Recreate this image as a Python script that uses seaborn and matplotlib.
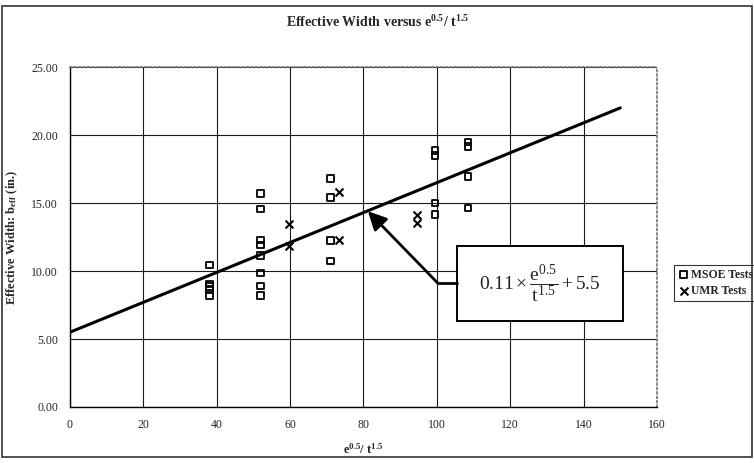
import numpy as np
import pandas as pd
import seaborn as sns
import matplotlib.pyplot as plt
import matplotlib.patches as patches
from matplotlib.ticker import FormatStrFormatter

# MSOE test data: e^0.5 / t^1.5 vs effective width
msoe_x = [38, 38, 38, 38, 38,
          52, 52, 52, 52, 52, 52, 52, 52,
          71, 71, 71, 71,
          99.5, 99.5, 99.5, 99.5,
          108.5, 108.5, 108.5, 108.5]
msoe_y = [10.45, 9.05, 8.85, 8.65, 8.2,
          15.7, 14.55, 12.3, 11.9, 11.15, 9.85, 8.9, 8.2,
          16.8, 15.4, 12.25, 10.75,
          18.85, 18.5, 15.0, 14.15,
          19.5, 19.15, 16.95, 14.65]

# UMR test data
umr_x = [59.8, 59.8, 73.2, 73.2, 94.5, 94.5]
umr_y = [13.45, 11.85, 15.8, 12.25, 14.15, 13.5]

# design line 0.11 * x + 5.5
trend_x = [0, 150]
trend_y = [5.5, 22.0]

x_ticks = [0, 20, 40, 60, 80, 100, 120, 140, 160]
y_ticks = [0, 5, 10, 15, 20, 25]

sns.set_style('white')
plt.rcParams['font.family'] = ['Liberation Serif', 'DejaVu Serif']
plt.rcParams['mathtext.fontset'] = 'custom'
plt.rcParams['mathtext.rm'] = 'Liberation Serif'
plt.rcParams['mathtext.it'] = 'Liberation Serif:italic'
plt.rcParams['mathtext.bf'] = 'Liberation Serif:bold'

fig = plt.figure(figsize=(7.54, 4.63), dpi=100)
ax = fig.add_axes([0.0928, 0.121, 0.7785, 0.734])

msoe = pd.DataFrame({'x': msoe_x, 'y': msoe_y})
umr = pd.DataFrame({'x': umr_x, 'y': umr_y})
trend = pd.DataFrame({'x': trend_x, 'y': trend_y})

sns.lineplot(data=trend, x='x', y='y', ax=ax, color='black', lw=2.2, zorder=3)
sns.scatterplot(data=msoe, x='x', y='y', ax=ax, marker='s', s=22,
                facecolor='none', edgecolor='black', linewidth=1.3,
                label='MSOE Tests', zorder=4)
sns.scatterplot(data=umr, x='x', y='y', ax=ax, marker='x', s=32,
                color='black', linewidth=1.5, label='UMR Tests', zorder=4)

ax.set_xlim(0, 160)
ax.set_ylim(0, 25)
ax.set_xticks(x_ticks)
ax.set_yticks(y_ticks)
ax.yaxis.set_major_formatter(FormatStrFormatter('%.2f'))
ax.tick_params(axis='both', labelsize=8.5, direction='inout', length=5,
               width=0.8, color='black', pad=6)
ax.grid(True, color='#1a1a1a', lw=0.8)
ax.set_axisbelow(True)

for side in ['left', 'bottom']:
    ax.spines[side].set_color('black')
    ax.spines[side].set_linewidth(1.0)
for side in ['top', 'right']:
    ax.spines[side].set_color('#777777')
    ax.spines[side].set_linestyle(':')
    ax.spines[side].set_linewidth(1.2)

ax.set_xlabel(r'e$^\mathbf{0.5}$/ t$^\mathbf{1.5}$', fontsize=9,
              fontweight='bold', labelpad=8)
ax.set_ylabel(r'Effective Width: b$_\mathbf{eff}$ (in.)', fontsize=9,
              fontweight='bold', labelpad=8)
fig.text(0.5, 0.952, r'Effective Width versus e$^\mathbf{0.5}$/ t$^\mathbf{1.5}$',
         ha='center', va='center', fontsize=10, fontweight='bold')

# equation box with bent arrow
ax.add_patch(patches.Rectangle((105.4, 6.35), 45.4, 5.5, facecolor='white',
                               edgecolor='black', lw=1.4, zorder=5))
ax.text(128.1, 9.1, r'$0.11\times\dfrac{\mathrm{e}^{0.5}}{\mathrm{t}^{1.5}}+5.5$',
        ha='center', va='center', fontsize=14, zorder=6)
ax.plot([100.3, 105.4], [9.1, 9.1], color='black', lw=2, zorder=5)
ax.annotate('', xy=(81.2, 14.4), xytext=(100.3, 9.1),
            arrowprops=dict(arrowstyle='-|>', mutation_scale=28, lw=2,
                            color='black', shrinkA=0, shrinkB=0), zorder=5)

leg = ax.legend(loc='center left', bbox_to_anchor=(0.894, 0.389),
                bbox_transform=fig.transFigure, frameon=True, fancybox=False,
                prop={'family': 'Liberation Serif', 'weight': 'bold', 'size': 8.5},
                handletextpad=0.1, borderpad=0.3, labelspacing=0.4,
                handlelength=1.0, borderaxespad=0)
leg.get_frame().set_edgecolor('black')
leg.get_frame().set_linewidth(0.8)

fig.add_artist(patches.Rectangle((0.002, 0.012), 0.995, 0.976,
                                 transform=fig.transFigure, fill=False,
                                 edgecolor='#333333', lw=1.2))

fig.savefig('out.png', dpi=100)
